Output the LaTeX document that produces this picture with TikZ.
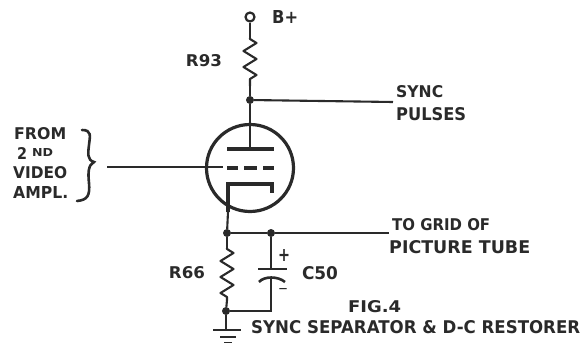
\documentclass[tikz,border=0pt]{standalone}
\usepackage{fontspec}
\setmainfont{DejaVu Sans}
\usetikzlibrary{decorations.pathmorphing}
\definecolor{ink}{HTML}{2A2A2A}
\newcommand{\fitlab}[3]{\resizebox{#1pt}{#2pt}{\bfseries #3}}
\tikzset{
  wire/.style={draw=ink,line width=2.1pt},
  thick wire/.style={draw=ink,line width=3.6pt},
  dot/.style={circle,fill=ink,draw=none,inner sep=0pt,minimum size=8pt},
  res/.style={wire,line join=round,decoration={zigzag,segment length=16pt,amplitude=6.5pt,pre length=1pt,post length=1pt},decorate},
  lab/.style={text=ink,inner sep=0pt,anchor=west},
  labc/.style={lab,anchor=center}
}
\begin{document}
\begin{tikzpicture}[x=1pt,y=-1pt]
\useasboundingbox (0,0) rectangle (582,343);
% top
\node[circle,draw=ink,line width=2.2pt,fill=white,inner sep=0pt,minimum size=9pt] (bplus) at (250,17) {};
\coordinate (r93t) at (250,38);
\coordinate (r93b) at (250,86);
\node[dot] (jtop) at (250,100) {};
\coordinate (syncend) at (393,102);
\draw[wire] (bplus) -- (r93t);
\draw[res] (r93t) -- (r93b);
\draw[wire] (r93b) -- (jtop);
\draw[wire] (jtop) -- (syncend);
% tube
\node[circle,draw=ink,line width=3.2pt,inner sep=0pt,minimum size=87pt] (tube) at (250,168) {};
\coordinate (plateL) at (227,149);
\coordinate (plateR) at (274,149);
\coordinate (plateC) at (250,149);
\draw[wire,line width=2.6pt] (jtop) -- (plateC);
\draw[thick wire] (plateL) -- (plateR);
\coordinate (in) at (107,167);
\coordinate (gridend) at (223,167);
\draw[wire] (in) -- (gridend);
\foreach \a/\b in {227/238,244/257,263/274}
  \draw[thick wire] (\a,168) -- (\b,168);
\coordinate (catL) at (228,184);
\coordinate (catR) at (272,184);
\coordinate (catE) at (272,193);
\coordinate (catS) at (228,212);
\draw[thick wire,line width=3.4pt,line join=miter] (catS) -- (catL) -- (catR) -- (catE);
% cathode network
\node[dot] (jcat) at (227,233) {};
\node[dot] (jcap) at (271,233) {};
\coordinate (gridwire) at (389,233);
\draw[wire] (catS) -- (jcat);
\draw[wire] (jcat) -- (jcap);
\draw[wire] (jcap) -- (gridwire);
\coordinate (r66t) at (227,248);
\coordinate (r66b) at (227,300);
\node[dot] (jbot) at (226,311) {};
\draw[wire] (jcat) -- (r66t);
\draw[res] (r66t) -- (r66b);
\draw[wire] (r66b) -- (jbot);
\coordinate (capT) at (271,269);
\coordinate (capB) at (271,278);
\coordinate (capC) at (271,311);
\draw[wire] (jcap) -- (capT);
\draw[wire,line width=2.6pt] (258,269) -- (287,269);
\draw[wire,line width=2.6pt] (259,282) .. controls (264,276) and (278,276) .. (285,282);
\draw[wire] (capB) -- (capC) -- (jbot);
% ground
\coordinate (gnd) at (226,330);
\draw[wire] (jbot) -- (gnd);
\draw[wire] (213,330) -- (241,330);
\draw[wire] (220,337) -- (236,337);
\draw[wire] (224,343) -- (232,343);
% brace
\coordinate (brT) at (82,130);
\coordinate (brB) at (77,201);
\draw[wire,line width=2.6pt,line cap=round] (brT) .. controls (92,130) and (90,136) .. (89,145)
  .. controls (88,153) and (87,160) .. (94,162)
  .. controls (88,165) and (88,173) .. (89,183)
  .. controls (90,195) and (88,200) .. (brB);
% labels
\node[lab] (lbplus) at (272,17) {\fitlab{26}{13}{B+}};
\node[labc] (lr93) at (204,61) {\fitlab{36}{12}{R93}};
\node[lab] (lsync) at (396,92) {\fitlab{47}{12}{SYNC}};
\node[lab] (lpulses) at (396,114) {\fitlab{70}{13}{PULSES}};
\node[lab] (lfrom) at (14,134) {\fitlab{52}{12}{FROM}};
\node[lab] (l2nd) at (17,153) {\fitlab{10}{12}{2}\hspace{5pt}\raisebox{3pt}{\fitlab{21}{8}{ND}}};
\node[lab] (lvideo) at (13,173) {\fitlab{54}{12}{VIDEO}};
\node[lab] (lampl) at (13,192) {\fitlab{55}{12}{AMPL.}};
\node[lab] (ltogrid) at (392,225) {\fitlab{98}{12}{TO GRID OF}};
\node[lab] (lpic) at (389,247) {\fitlab{141}{13}{PICTURE TUBE}};
\node[labc] (lr66) at (187,273) {\fitlab{36}{12}{R66}};
\node[labc] (lc50) at (320,273) {\fitlab{36}{13}{C50}};
\node[labc] (lplus) at (284,255) {\fitlab{12}{12}{+}};
\node[labc] (lminus) at (283,290) {\fitlab{10}{3}{-}};
\node[lab] (lfig) at (348,307) {\fitlab{53}{12}{FIG.4}};
\node[lab] (lcap) at (251,327) {\fitlab{329}{13}{SYNC SEPARATOR \& D-C RESTORER}};
\end{tikzpicture}
\end{document}
